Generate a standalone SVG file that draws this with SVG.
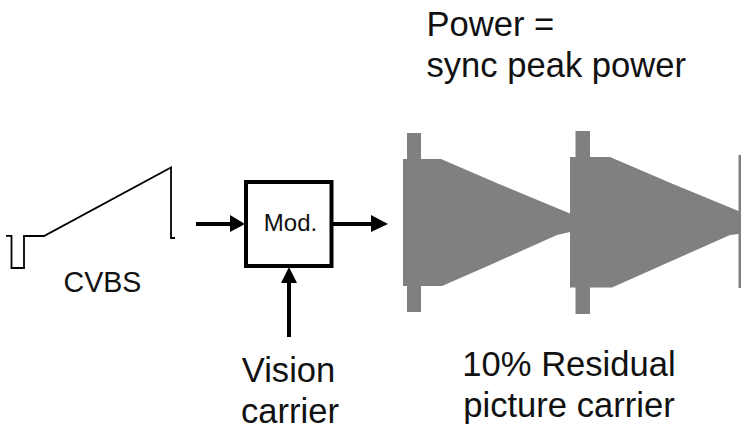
<svg xmlns="http://www.w3.org/2000/svg" width="741" height="426" viewBox="0 0 741 426">
<style>
text{font-family:"Liberation Sans",Arial,sans-serif;fill:#111}
.big{font-size:34.6px}
.cvbs{font-size:28.600px}
.mod{font-size:24px}
.line{fill:none;stroke:#000;stroke-width:4}
.head{fill:#000}
</style>
<rect width="741" height="426" fill="#fff"/>
<g id="cvbs">
<polyline points="6,235.8 11.500,235.800 11.500,268 24,268 24,236 44,236 171,167.500 171,238 175,238" fill="none" stroke="#000" stroke-width="1.800"/>
<text class="cvbs" x="102.500" y="292" text-anchor="middle">CVBS</text>
</g>
<g id="mod">
<rect x="246" y="182" width="85.500" height="84" fill="#fff" stroke="#000" stroke-width="4"/>
<text class="mod" x="290.500" y="231" text-anchor="middle">Mod.</text>
</g>
<g id="connectors">
<path class="line" d="M196 224H232"/><path class="head" d="M230 215L245 224L230 232Z"/>
<path class="line" d="M333 224H373"/><path class="head" d="M371 215L388 224L371 232Z"/>
<path class="line" d="M289 337V281"/><path class="head" d="M281 283L289 267L297 283Z"/>
</g>
<g id="waveform">
<polygon fill="#808080" points="403,159 407,159 407,133 421,133 421,159 441,159 499,184 570,213.500 570,157 575.500,157 575.500,131 590,131 590,157 610,157 673,184 738.500,211 738.500,155 741,155 741,288 738.500,288 738.500,234 730,235 612,287.500 590,287.500 590,314 575.500,314 575.500,287.500 570,287.500 570,232 557,235 490,265 442,286 421,286 421,312 407,312 407,286 403,286"/>
</g>
<g id="power-label">
<text class="big" x="426.500" y="36">Power =</text>
<text class="big" x="426.500" y="77">sync peak power</text>
</g>
<g id="vision-label">
<text class="big" x="288.500" y="382" text-anchor="middle">Vision</text>
<text class="big" x="290" y="423" text-anchor="middle">carrier</text>
</g>
<g id="residual-label">
<text class="big" x="569" y="376" text-anchor="middle">10% Residual</text>
<text class="big" x="569" y="417" text-anchor="middle">picture carrier</text>
</g>
</svg>
